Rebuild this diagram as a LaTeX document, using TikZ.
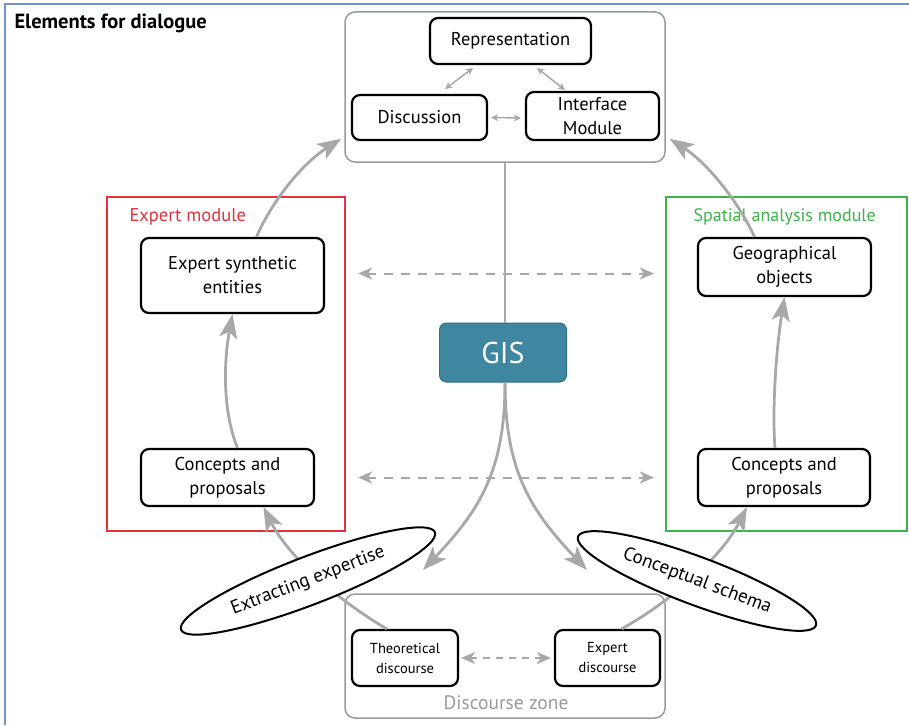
\documentclass[tikz,border=0pt]{standalone}
\usepackage{fontspec}
\setmainfont{PT Sans}
\usetikzlibrary{arrows.meta,shapes.geometric,calc}
\definecolor{agray}{HTML}{A8A8A8}
\definecolor{zgray}{HTML}{9A9A9A}
\definecolor{ered}{HTML}{E2323C}
\definecolor{sgreen}{HTML}{3CB44A}
\definecolor{gisfill}{HTML}{3F86A0}
\definecolor{gisedge}{HTML}{2E6E84}
\definecolor{bborder}{HTML}{7393D3}
\tikzset{
  blk/.style={draw=black, line width=2.2pt, rounded corners=8pt, fill=white, align=center, font=\fontsize{18.5}{24}\selectfont, inner sep=2pt},
  smallblk/.style={blk, font=\fontsize{14.5}{20}\selectfont},
  zone/.style={draw=zgray, line width=1.5pt, rounded corners=10pt},
  modbox/.style={line width=2.2pt},
  bigarrow/.style={draw=agray, line width=2.8pt, -{Stealth[length=24pt,width=18pt,inset=6pt]}},
  smallarrow/.style={draw=agray, line width=1.5pt, {Stealth[length=7pt,width=7pt,inset=2pt]}-{Stealth[length=7pt,width=7pt,inset=2pt]}},
  dasharrow/.style={draw=agray, line width=2pt, dash pattern=on 9pt off 8pt, {Stealth[length=14pt,width=12pt,inset=4pt]}-{Stealth[length=14pt,width=12pt,inset=4pt]}},
  plainline/.style={draw=agray, line width=2.8pt},
  oval/.style={ellipse, draw=black, line width=2pt, fill=white, inner sep=0pt, font=\fontsize{19}{21}\selectfont},
  modlabel/.style={anchor=base west, font=\fontsize{18.5}{21}\selectfont}
}
\begin{document}
\begin{tikzpicture}[x=1pt,y=-1pt]
\useasboundingbox (0,0) rectangle (909,725);
\fill[white] (0,0) rectangle (909,725);
\draw[bborder, line width=2pt] (5,725) -- (5,4) -- (909,4);
\node[anchor=base west, font=\bfseries\fontsize{20.5}{22}\selectfont] (title) at (11,29) {Elements for dialogue};

% zones
\node[zone, minimum width=320pt, minimum height=150pt] (topbox) at (505,87) {};
\node[zone, minimum width=320pt, minimum height=124pt] (dz) at (505,656) {};
\node[draw=ered, modbox, minimum width=238pt, minimum height=334pt] (expmod) at (226,364) {};
\node[draw=sgreen, modbox, minimum width=241pt, minimum height=334pt] (spmod) at (786.5,364) {};
\node[modlabel, text=ered] (explab) at (126,221) {Expert module};
\node[modlabel, text=sgreen, font=\fontsize{18}{21}\selectfont] (splab) at (690,221) {Spatial analysis module};
\node[anchor=center, text=zgray, font=\fontsize{19.5}{21}\selectfont] (dzlab) at (506,703) {Discourse zone};

% boxes
\node[blk, minimum width=161pt, minimum height=46pt] (rep) at (510.5,41) {Representation};
\node[blk, minimum width=135pt, minimum height=45pt] (disc) at (419.5,117.5) {Discussion};
\node[blk, minimum width=133pt, minimum height=48pt] (iface) at (592.5,116) {Interface\\Module};
\node[blk, minimum width=183pt, minimum height=75pt] (esyn) at (232.5,275.5) {Expert synthetic\\entities};
\node[blk, minimum width=173pt, minimum height=57pt] (cpL) at (227.5,477.5) {Concepts and\\proposals};
\node[blk, minimum width=173pt, minimum height=58pt] (geo) at (784.5,267) {Geographical\\objects};
\node[blk, minimum width=172pt, minimum height=57pt] (cpR) at (784,477.5) {Concepts and\\proposals};
\node[smallblk, minimum width=106pt, minimum height=56pt] (theo) at (405,658) {Theoretical\\discourse};
\node[smallblk, minimum width=105pt, minimum height=56pt] (expd) at (607.5,658) {Expert\\discourse};
\node[draw=gisedge, line width=1pt, fill=gisfill, rounded corners=7pt, minimum width=127pt, minimum height=59pt, text=white, font=\fontsize{30}{32}\selectfont] (gis) at (503,352.5) {GIS};

% small arrows in top zone
\coordinate (r1) at (473,68); \coordinate (d1) at (445,89);
\coordinate (r2) at (537,68); \coordinate (i1) at (565,90);
\draw[smallarrow] (r1) -- (d1);
\draw[smallarrow] (r2) -- (i1);
\draw[smallarrow] (disc.east) ++(3,0) coordinate (de) (de) -- ($(iface.west)+(-4,2)$) coordinate (iw);

% GIS links
\draw[plainline] (topbox.south) -- (topbox.south |- gis.north);
\coordinate (gs) at (gis.south -| topbox.south);
\coordinate (tipL) at (423,570);
\coordinate (tipR) at (587,570);
\draw[bigarrow] (gs) .. controls (505,470) and (480,510) .. (tipL);
\draw[bigarrow] (gs) .. controls (505,470) and (530,510) .. (tipR);

% dashed
\draw[dasharrow, shorten <=12pt, shorten >=11pt] (esyn.east -| expmod.east) ++(0,-2) coordinate (a1) (a1) -- (a1 -| spmod.west);
\draw[dasharrow, shorten <=12pt, shorten >=11pt] (cpL.east -| expmod.east) coordinate (a2) -- (a2 -| spmod.west);
\draw[dasharrow, line width=1.8pt, dash pattern=on 7pt off 6pt, shorten <=2pt, shorten >=3pt] (theo.east) -- (expd.west);

% module-to-top arrows
\coordinate (tl) at ($(topbox.south west)+(-3,-24)$);
\coordinate (tr) at ($(topbox.south east)+(4,-24)$);
\draw[bigarrow] ($(esyn.north)+(24,0)$) .. controls (270,205) and (300,165) .. (tl);
\draw[bigarrow] ($(geo.north)+(-30,0)$) .. controls (740,205) and (710,165) .. (tr);

% internal module arrows
\draw[bigarrow] ($(cpL.north)+(10,0)$) .. controls (222,410) and (224,360) .. (esyn.south);
\draw[bigarrow] ($(cpR.north)+(-9,0)$) .. controls (772,410) and (776,350) .. (geo.south);

% bottom arrows
\draw[bigarrow] ($(theo.north)+(-18,0)$) .. controls (345,605) and (290,560) .. ($(cpL.south)+(36,0)$);
\draw[bigarrow] ($(expd.north)+(14,0)$) .. controls (665,605) and (720,560) .. ($(cpR.south)+(-37,0)$);

% ovals
\node[oval, rotate=21, minimum width=272pt, minimum height=48pt] (extr) at (308,581) {Extracting expertise};
\node[oval, rotate=-20.5, minimum width=254pt, minimum height=48pt] (concs) at (697,581) {Conceptual schema};
\end{tikzpicture}
\end{document}
